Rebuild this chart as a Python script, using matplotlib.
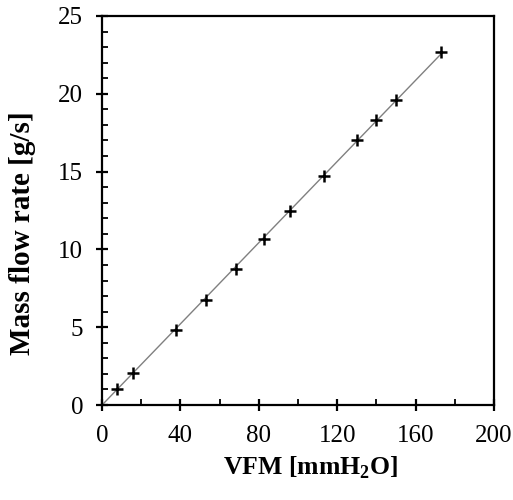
import numpy as np
import matplotlib.pyplot as plt
from matplotlib.ticker import MultipleLocator

# VFM differential pressure [mmH2O] vs measured mass flow rate [g/s]
vfm_mmh2o = [7.7, 15.8, 37.8, 53.1, 68.4, 82.7, 95.9, 113.3, 130.1, 139.8, 150.0, 173.0]
mass_flow = [1.0, 2.05, 4.85, 6.75, 8.75, 10.7, 12.5, 14.7, 17.0, 18.3, 19.6, 22.7]

plt.rcParams['font.family'] = ['Liberation Serif', 'DejaVu Serif']
plt.rcParams['mathtext.fontset'] = 'custom'
plt.rcParams['mathtext.rm'] = 'Liberation Serif'
plt.rcParams['mathtext.bf'] = 'Liberation Serif:bold'

x = np.array(vfm_mmh2o)
y = np.array(mass_flow)
# least-squares line through the origin
slope = np.sum(x * y) / np.sum(x * x)
x_fit = np.array([0.0, x.max()])

fig = plt.figure(figsize=(5.13, 5.0), dpi=100)
ax = fig.add_axes([0.199, 0.19, 0.764, 0.778])

ax.plot(x_fit, slope * x_fit, color='#808080', linewidth=1.0, zorder=2)
ax.plot(x, y, linestyle='none', marker='+', markersize=9, markeredgewidth=1.8,
        color='black', zorder=3)

ax.set_xlim(0, 200)
ax.set_ylim(0, 25)
ax.xaxis.set_major_locator(MultipleLocator(40))
ax.xaxis.set_minor_locator(MultipleLocator(20))
ax.yaxis.set_major_locator(MultipleLocator(5))
ax.yaxis.set_minor_locator(MultipleLocator(1))

for s in ax.spines.values():
    s.set_linewidth(1.6)
ax.tick_params(which='major', direction='inout', length=9, width=1.6,
               labelsize=18)
ax.tick_params(axis='y', which='major', pad=9)
ax.tick_params(axis='x', which='major', pad=10)
ax.tick_params(which='minor', direction='in', length=4, width=1.3)

ax.set_xlabel(r'VFM [mmH$_\mathbf{2}$O]', fontsize=18.5, fontweight='bold')
ax.set_ylabel('Mass flow rate [g/s]', fontsize=21, fontweight='bold')
ax.xaxis.set_label_coords(0.533, -0.128)
ax.yaxis.set_label_coords(-0.168, 0.442)

fig.savefig('out.png', dpi=100)
